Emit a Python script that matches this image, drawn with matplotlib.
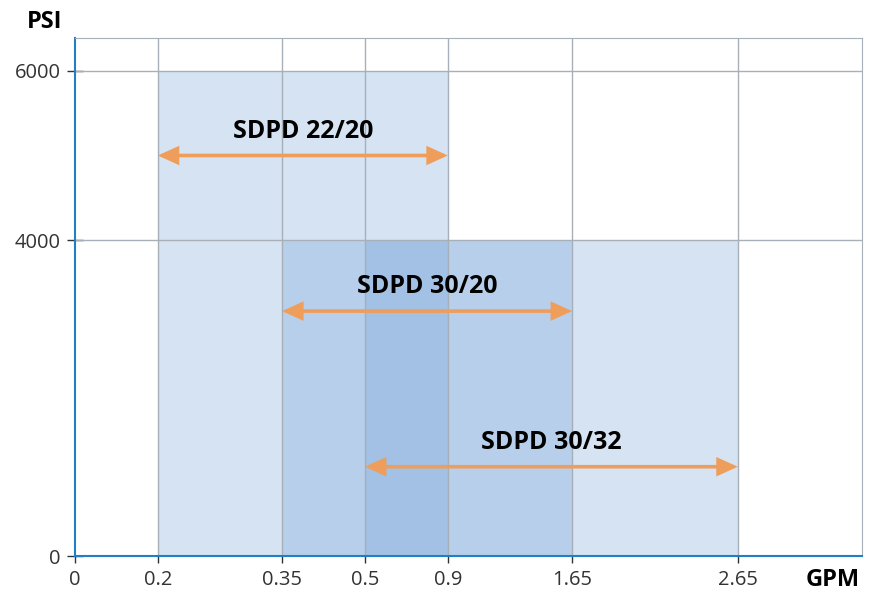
import numpy as np
import matplotlib
matplotlib.use("Agg")
import matplotlib.pyplot as plt
from matplotlib.patches import FancyArrowPatch

plt.rcParams["font.family"] = ["Open Sans", "DejaVu Sans"]

# -- Datos --
gpm_ticks = [0, 0.2, 0.35, 0.5, 0.9, 1.65, 2.65]
gpm_pos = [0, 2, 5, 7, 9, 12, 16]      # posicion (no lineal) de cada tick en el eje
x_end = 19
psi_ticks = [0, 4000, 6000]
psi_pos = [0, 316, 485]                # eje Y tampoco es lineal en el original
y_end = 518

models = ["SDPD 22/20", "SDPD 30/20", "SDPD 30/32"]
gpm_min = [0.2, 0.35, 0.5]
gpm_max = [0.9, 1.65, 2.65]
psi_max = [6000, 4000, 4000]
arrow_psi = [5000, 3100, 1130]

def to_x(g):
    return np.interp(g, gpm_ticks, gpm_pos)

def to_y(p):
    return np.interp(p, psi_ticks, psi_pos)

fig = plt.figure(figsize=(8.77, 5.93), dpi=100)
ax = fig.add_axes([75 / 877, 37 / 593, 787 / 877, 518 / 593])

fill = "#74a3da"
for lo, hi, top in zip(gpm_min, gpm_max, psi_max):
    ax.fill_between([to_x(lo), to_x(hi)], 0, to_y(top), color=fill, alpha=0.3,
                    linewidth=0, zorder=1)

# rejilla
grid_c = "#a7afb8"
for p in gpm_pos[1:]:
    ax.axvline(p, color=grid_c, linewidth=1, zorder=2)
for v in psi_ticks[1:]:
    ax.axhline(to_y(v), color=grid_c, linewidth=1, zorder=2)

# flechas y etiquetas
orange = "#ef9d5a"
for name, lo, hi, p in zip(models, gpm_min, gpm_max, arrow_psi):
    x0, x1 = to_x(lo), to_x(hi)
    y = to_y(p)
    arr = FancyArrowPatch((x0, y), (x1, y),
                          arrowstyle="<|-|>,head_length=11,head_width=5",
                          color=orange, lw=2.6, shrinkA=0, shrinkB=0,
                          joinstyle="miter", zorder=4)
    ax.add_patch(arr)
    ax.text((x0 + x1) / 2, y + 12, name, ha="center", va="bottom",
            fontsize=18, fontweight="bold", color="black", zorder=5)

ax.set_xlim(0, x_end)
ax.set_ylim(0, y_end)
ax.set_xticks(gpm_pos)
ax.set_xticklabels([f"{g:g}" for g in gpm_ticks])
ax.set_yticks(psi_pos)
ax.set_yticklabels([str(v) for v in psi_ticks])
ax.tick_params(axis="x", direction="out", length=5, width=1, color="#333333",
               labelsize=14.5, labelcolor="#333333", pad=5)
ax.tick_params(axis="y", direction="inout", length=11, width=1, color="#333333",
               labelsize=14.5, labelcolor="#333333", pad=5)

blue = "#1f80c4"
ax.spines["left"].set_color(blue)
ax.spines["bottom"].set_color(blue)
ax.spines["left"].set_linewidth(1.5)
ax.spines["bottom"].set_linewidth(1.5)
ax.spines["top"].set_color(grid_c)
ax.spines["right"].set_color(grid_c)

fig.text(45 / 877, 1 - 22 / 593, "PSI", ha="center", va="center",
         fontsize=17, fontweight="bold")
fig.text(833 / 877, 1 - 580 / 593, "GPM", ha="center", va="center",
         fontsize=17, fontweight="bold")

fig.savefig("out.png", dpi=100)
